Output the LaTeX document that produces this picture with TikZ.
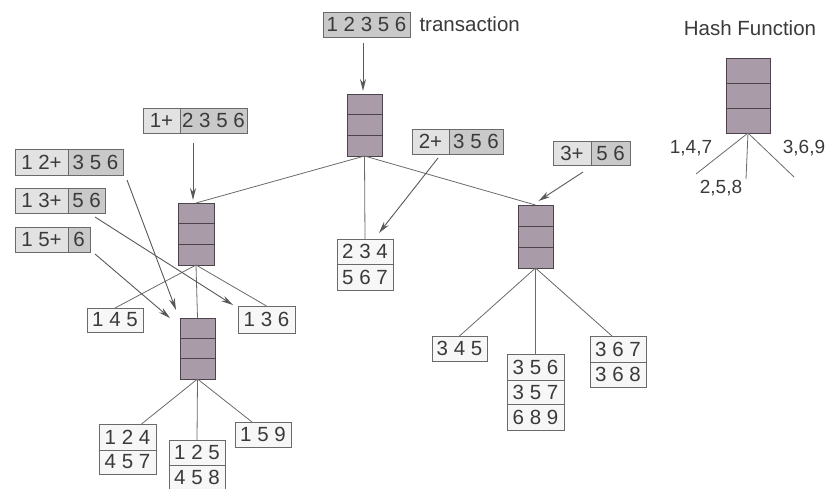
\documentclass[tikz,border=0pt]{standalone}
\usepackage{fontspec}
\setmainfont{Liberation Sans}
\usetikzlibrary{arrows.meta,calc}
\definecolor{hashfill}{HTML}{A99CA8}
\definecolor{hashline}{HTML}{4D434D}
\definecolor{labdark}{HTML}{C9C9C9}
\definecolor{lablight}{HTML}{E2E2E2}
\definecolor{leaffill}{HTML}{F7F7F7}
\definecolor{ink}{HTML}{3A3A3A}
\definecolor{edge}{HTML}{6A6A6A}
\tikzset{
  hashbox/.style={draw=hashline, fill=hashfill, line width=0.9pt, minimum width=35pt,
    minimum height=62pt, inner sep=0pt, outer sep=0pt, anchor=north west},
  labL/.style={draw=edge, fill=lablight, line width=0.8pt, minimum height=25pt,
    inner sep=0pt, outer sep=0pt, anchor=north west},
  labR/.style={draw=edge, fill=labdark, line width=0.8pt, minimum height=25pt,
    inner sep=0pt, outer sep=0pt, anchor=north west},
  leaf/.style={draw=edge, fill=leaffill, line width=0.8pt, minimum height=25pt,
    minimum width=56pt, inner sep=0pt, outer sep=0pt, anchor=north west},
  below/.style={anchor=north},
  link/.style={draw=edge, line width=0.8pt},
  feed/.style={draw=ink!85, line width=0.9pt, -{Stealth[length=12pt,width=6pt]}},
  tiny/.style={font=\fontsize{19pt}{21pt}\selectfont}
}
\begin{document}
\begin{tikzpicture}[x=1pt,y=-1pt,font=\fontsize{20.5pt}{22pt}\selectfont,text=ink]
\useasboundingbox (0,0) rectangle (828,488);

% hash nodes of the tree
\node[hashbox] (root) at (347,94) {};
\node[hashbox, minimum width=36pt] (L) at (178,203) {};
\node[hashbox, minimum height=63pt] (R) at (518,205) {};
\node[hashbox, minimum height=61pt] (B) at (180,318) {};
\node[hashbox, minimum width=44pt, minimum height=75pt] (H) at (726,58) {};
\foreach \n in {root,L,R,B,H}{
  \draw[hashline, line width=1pt] ($(\n.north west)!1/3!(\n.south west)$) -- ($(\n.north east)!1/3!(\n.south east)$);
  \draw[hashline, line width=1pt] ($(\n.north west)!2/3!(\n.south west)$) -- ($(\n.north east)!2/3!(\n.south east)$);
}

% transaction and its prefixes
\node[labR, minimum width=87pt] (top) at (323,12) {1 2 3 5 6};
\node[anchor=west] (tr) at (416,24) {transaction};

\node[labL, minimum width=37pt] (p1a) at (143,108) {1+};
\node[labR, minimum width=67pt, anchor=west] (p1b) at (p1a.east) {2 3 5 6};
\node[labL, minimum width=37pt] (p2a) at (412,129) {2+};
\node[labR, minimum width=54pt, anchor=west] (p2b) at (p2a.east) {3 5 6};
\node[labL, minimum width=38pt, minimum height=24pt] (p3a) at (553,141) {3+};
\node[labR, minimum width=39pt, minimum height=24pt, anchor=west] (p3b) at (p3a.east) {5 6};
\node[labL, minimum width=53pt, minimum height=26pt] (p12a) at (15,149) {1 2+};
\node[labR, minimum width=55pt, minimum height=26pt, anchor=west] (p12b) at (p12a.east) {3 5 6};
\node[labL, minimum width=53pt] (p13a) at (15,188) {1 3+};
\node[labR, minimum width=37pt, anchor=west] (p13b) at (p13a.east) {5 6};
\node[labL, minimum width=53pt] (p15a) at (15,227) {1 5+};
\node[labR, minimum width=22pt, anchor=west] (p15b) at (p15a.east) {6};

% leaves
\node[leaf] (l234) at (337,239) {2 3 4};
\node[leaf, below, minimum height=26pt] (l567) at (l234.south) {5 6 7};
\node[leaf, minimum height=24pt] (l145) at (87,308) {1 4 5};
\node[leaf, minimum width=57pt, minimum height=27pt] (l136) at (238,306) {1 3 6};
\node[leaf, minimum width=57pt, minimum height=26pt] (l124) at (99,424) {1 2 4};
\node[leaf, below, minimum width=57pt, minimum height=24pt] (l457) at (l124.south) {4 5 7};
\node[leaf, minimum height=25pt] (l125) at (169,440) {1 2 5};
\node[leaf, below, minimum height=25pt] (l458) at (l125.south) {4 5 8};
\node[leaf] (l159) at (235,422) {1 5 9};
\node[leaf, minimum width=55pt] (l345) at (432,336) {3 4 5};
\node[leaf, minimum width=57pt, minimum height=26pt] (l356) at (507,354) {3 5 6};
\node[leaf, below, minimum width=57pt, minimum height=24pt] (l357) at (l356.south) {3 5 7};
\node[leaf, below, minimum width=57pt, minimum height=26pt] (l689) at (l357.south) {6 8 9};
\node[leaf, minimum height=26pt] (l367) at (590,336) {3 6 7};
\node[leaf, below] (l368) at (l367.south) {3 6 8};

% tree edges
\draw[link] (root.south) -- (L.north);
\draw[link] (root.south) -- (l234.north);
\draw[link] (root.south) -- (R.north);
\draw[link] (L.south) -- (l145.north);
\draw[link] (L.south) -- (B.north);
\draw[link] (L.south) -- (l136.north);
\draw[link] (R.south) -- (l345.north);
\draw[link] (R.south) -- (l356.north);
\draw[link] (R.south) -- ($(l367.north)+(-6,0)$);
\draw[link] (B.south) -- ($(l124.north)+(14,0)$);
\draw[link] (B.south) -- (l125.north);
\draw[link] (B.south) -- ($(l159.north)+(-11,0)$);

% where each prefix is sent
\draw[feed] ($(top.south)+(-3.5,6)$) -- ($(root.north)+(-1.5,-3)$);
\draw[feed] ($(p1b.south west)+(13,10)$) -- ($(L.north)+(-3,-3)$);
\draw[feed] ($(p2a.south east)+(-11,4)$) -- ($(l234.north)+(14,-6)$);
\draw[feed] ($(p3a.south east)+(-8,7)$) -- ($(R.north)+(3,-4)$);
\draw[feed] ($(p12b.south east)+(4,5)$) -- ($(B.north west)+(-4,-8)$);
\draw[feed] ($(p13b.south east)+(-10,4)$) -- ($(l136.north west)+(-5,-1)$);
\draw[feed] ($(p15b.south east)+(5,2)$) -- ($(B.north west)+(-10,0)$);

% the hash function key
\node (hf) at (750,28) {Hash Function};
\coordinate (h147) at (696,174);
\coordinate (h258) at (746,179);
\coordinate (h369) at (794,177);
\draw[link] (H.south) -- (h147);
\draw[link] (H.south) -- (h258);
\draw[link] (H.south) -- (h369);
\node[tiny] (t147) at (691,148) {1,4,7};
\node[tiny] (t369) at (804,148) {3,6,9};
\node[tiny] (t258) at (721,188) {2,5,8};
\end{tikzpicture}
\end{document}
